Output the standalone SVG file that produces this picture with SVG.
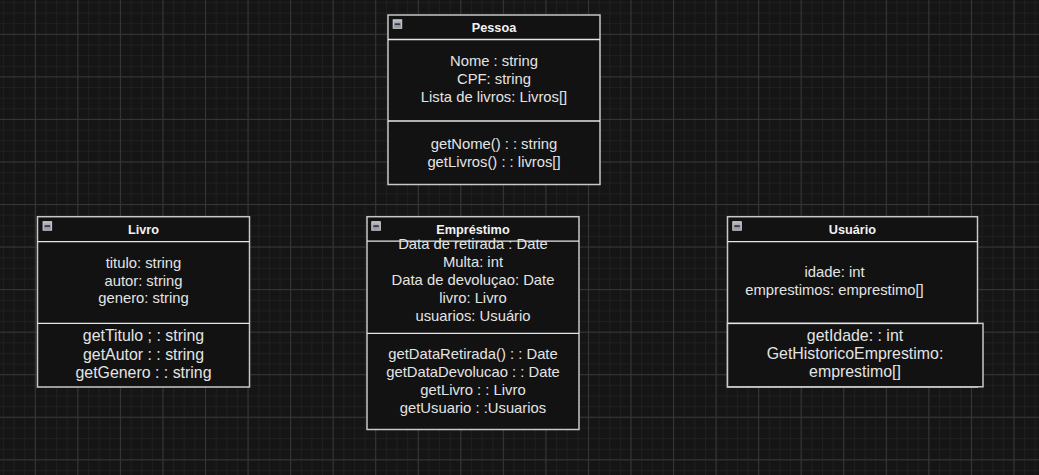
<svg xmlns="http://www.w3.org/2000/svg" width="1039" height="475" viewBox="0 0 1039 475">
  <defs>
    <pattern id="gridMinor" patternUnits="userSpaceOnUse" x="2.9" y="1.9" width="10.6375" height="10.6375">
      <rect x="0" y="0" width="1" height="10.6375" fill="#1f1f1f"/>
      <rect x="0" y="0" width="10.6375" height="1" fill="#1f1f1f"/>
    </pattern>
    <pattern id="gridMajor" patternUnits="userSpaceOnUse" x="34.8" y="33.8" width="42.55" height="42.55">
      <rect x="0" y="0" width="1" height="42.55" fill="#363636"/>
      <rect x="0" y="0" width="42.55" height="1" fill="#363636"/>
    </pattern>
    <linearGradient id="iconFill" x1="0" y1="0" x2="0" y2="1">
      <stop offset="0" stop-color="#b8bcc8"/>
      <stop offset="1" stop-color="#8a8f9c"/>
    </linearGradient>
    <g id="collapse">
      <rect x="0.5" y="0.5" width="8.5" height="8.5" fill="url(#iconFill)" stroke="#d0d0d0" stroke-width="1"/>
      <rect x="2" y="4" width="5.5" height="1.8" fill="#3a3a3a"/>
    </g>
  </defs>
  <style>
    .box { fill: #121212; stroke: #c8c8c8; stroke-width: 1.5; }
    .sep { stroke: #e6e6e6; stroke-width: 1.3; fill: none; }
    .title { font-family: "Liberation Sans", Arial, sans-serif; font-size: 12.7px; font-weight: bold; fill: #f2f2f2; text-anchor: middle; }
    .txt { font-family: "Liberation Sans", Arial, sans-serif; font-size: 14.8px; fill: #e4e4e4; text-anchor: middle; }
    .big { font-size: 15.9px; }
  </style>

  <!-- canvas background with grid -->
  <rect x="0" y="0" width="1039" height="475" fill="#151515"/>
  <rect x="0" y="0" width="1039" height="475" fill="url(#gridMinor)"/>
  <rect x="0" y="0" width="1039" height="475" fill="url(#gridMajor)"/>

  <g id="connectors"></g>

  <!-- Pessoa -->
  <g id="pessoa">
    <rect class="box" x="388" y="15" width="212" height="169.5"/>
    <line class="sep" x1="388" y1="39.5" x2="600" y2="39.5"/>
    <line class="sep" x1="388" y1="121" x2="600" y2="121"/>
    <use href="#collapse" x="392.7" y="19.3"/>
    <text class="title" x="494" y="31.6">Pessoa</text>
    <text class="txt" x="494" y="66.1">Nome : string</text>
    <text class="txt" x="494" y="84">CPF: string</text>
    <text class="txt" x="494" y="101.9">Lista de livros: Livros[]</text>
    <text class="txt" x="494" y="149.3">getNome() : : string</text>
    <text class="txt" x="494" y="167.2">getLivros() : : livros[]</text>
  </g>

  <!-- Livro -->
  <g id="livro">
    <rect class="box" x="37.5" y="216.7" width="212" height="170.3"/>
    <line class="sep" x1="37.5" y1="241.6" x2="249.5" y2="241.6"/>
    <line class="sep" x1="37.5" y1="323.4" x2="249.5" y2="323.4"/>
    <use href="#collapse" x="42.6" y="221.2"/>
    <text class="title" x="143.5" y="233.8">Livro</text>
    <text class="txt" x="143.5" y="267.6">titulo: string</text>
    <text class="txt" x="143.5" y="285.5">autor: string</text>
    <text class="txt" x="143.5" y="303.4">genero: string</text>
    <text class="txt big" x="143.5" y="341.2">getTitulo ; : string</text>
    <text class="txt big" x="143.5" y="359.6">getAutor : : string</text>
    <text class="txt big" x="143.5" y="378">getGenero : : string</text>
  </g>

  <!-- Empréstimo -->
  <g id="emprestimo">
    <rect class="box" x="367" y="216.7" width="212" height="212.8"/>
    <line class="sep" x1="367" y1="241.2" x2="579" y2="241.2"/>
    <line class="sep" x1="367" y1="333.4" x2="579" y2="333.4"/>
    <use href="#collapse" x="371.3" y="221.2"/>
    <text class="title" x="473" y="233.8">Empréstimo</text>
    <text class="txt" x="473" y="249.4">Data de retirada : Date</text>
    <text class="txt" x="473" y="267.3">Multa: int</text>
    <text class="txt" x="473" y="285.2">Data de devoluçao: Date</text>
    <text class="txt" x="473" y="303.1">livro: Livro</text>
    <text class="txt" x="473" y="321">usuarios: Usuário</text>
    <text class="txt" x="473" y="358.8">getDataRetirada() : : Date</text>
    <text class="txt" x="473" y="376.7">getDataDevolucao : : Date</text>
    <text class="txt" x="473" y="394.6">getLivro : : Livro</text>
    <text class="txt" x="473" y="412.5">getUsuario : :Usuarios</text>
  </g>

  <!-- Usuário -->
  <g id="usuario">
    <rect class="box" x="727.5" y="216.7" width="250" height="170.3"/>
    <line class="sep" x1="727.5" y1="241.6" x2="977.5" y2="241.6"/>
    <use href="#collapse" x="732.3" y="221.2"/>
    <text class="title" x="852.4" y="233.8">Usuário</text>
    <text class="txt" x="834.5" y="276.8">idade: int</text>
    <text class="txt" x="834.5" y="294.9">emprestimos: emprestimo[]</text>
    <rect class="box" x="727.5" y="323.4" width="255.5" height="63.4"/>
    <line class="sep" x1="727.5" y1="323.4" x2="977.5" y2="323.4"/>
    <text class="txt big" x="855" y="340.8">getIdade: : int</text>
    <text class="txt big" x="855" y="359.1">GetHistoricoEmprestimo:</text>
    <text class="txt big" x="855" y="377.4">emprestimo[]</text>
  </g>
</svg>
